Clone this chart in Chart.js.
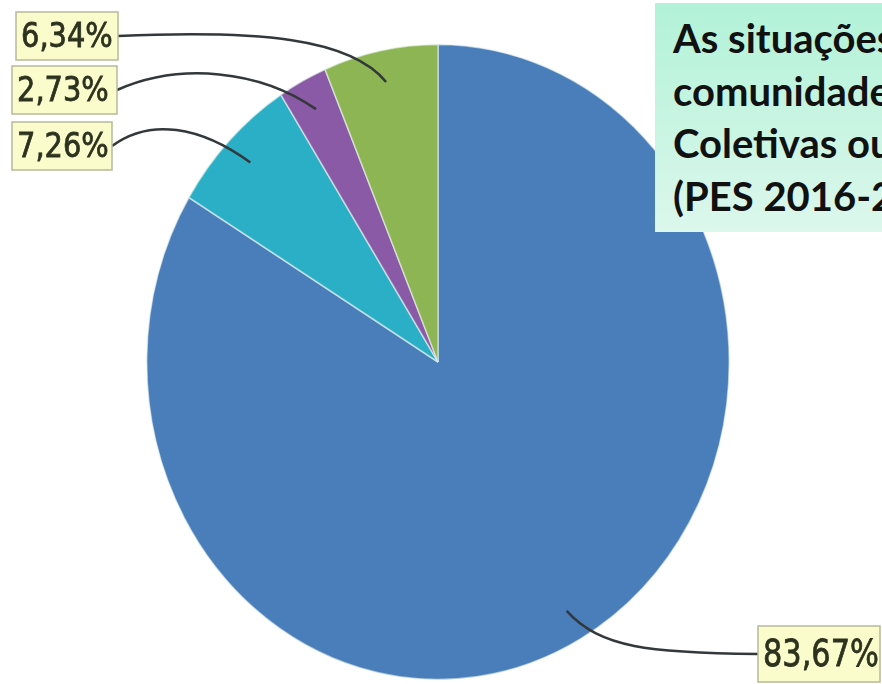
<!DOCTYPE html>
<html>
<head>
<meta charset="utf-8">
<script src="https://cdn.jsdelivr.net/npm/chart.js@4"></script>
<style>
  html, body { margin: 0; padding: 0; background: #fff; overflow: hidden; }
  #wrap { position: relative; width: 882px; height: 684px; }
  #note {
    position: absolute; left: 655px; top: 3px; width: 260px; height: 229px;
    background: linear-gradient(#b2f2d8, #dcf7ec);
    font-family: Lato, "Open Sans", sans-serif; font-weight: bold;
    font-size: 40px; line-height: 52.5px; color: #111;
    padding: 9px 0 0 18px; box-sizing: border-box; white-space: nowrap;
  }
</style>
</head>
<body>
<div id="wrap">
  <canvas id="pie" width="882" height="684"></canvas>
  <div id="note">As situações<br>comunidade<br>Coletivas ou<br>(PES 2016-2</div>
</div>
<script>
  const labels = ["83,67%", "7,26%", "2,73%", "6,34%"];
  const values = [83.67, 7.26, 2.73, 6.34];
  const colors = ["#4a7ebb", "#2aafc7", "#8a5aa6", "#8db554"];

  // pie is stretched a bit vertically in the original
  const Y_STRETCH = 1.09;

  // label boxes + leader line control points, same order as values
  const callouts = [
    { x: 758, y: 626, w: 122, h: 56, size: 38, sx: 0.8, from: "left",
      c1: [650, 653], c2: [600, 648] },
    { x: 12, y: 122, w: 100, h: 48, size: 34, sx: 0.85, from: "right",
      c1: [150, 118], c2: [200, 126] },
    { x: 12, y: 66, w: 105, h: 48, size: 34, sx: 0.85, from: "right",
      c1: [180, 62], c2: [260, 70] },
    { x: 16, y: 12, w: 102, h: 48, size: 34, sx: 0.85, from: "right",
      c1: [260, 30], c2: [350, 38] },
  ];

  const stretchPlugin = {
    id: "stretch",
    beforeDatasetsDraw(chart) {
      const arc = chart.getDatasetMeta(0).data[0];
      const ctx = chart.ctx;
      ctx.save();
      ctx.translate(arc.x, arc.y);
      ctx.scale(1, Y_STRETCH);
      ctx.translate(-arc.x, -arc.y);
    },
    afterDatasetsDraw(chart) {
      chart.ctx.restore();
    },
  };

  const calloutPlugin = {
    id: "callouts",
    afterDraw(chart) {
      const ctx = chart.ctx;
      chart.getDatasetMeta(0).data.forEach((arc, i) => {
        const c = callouts[i];
        const mid = (arc.startAngle + arc.endAngle) / 2;
        const r = arc.outerRadius * 0.9;
        const ex = arc.x + Math.cos(mid) * r;
        const ey = arc.y + Math.sin(mid) * r * Y_STRETCH;
        const sx = c.from === "right" ? c.x + c.w : c.x;
        const sy = c.y + c.h / 2;

        ctx.save();
        ctx.strokeStyle = "#33383a";
        ctx.lineWidth = 2.5;
        ctx.beginPath();
        ctx.moveTo(sx, sy);
        ctx.bezierCurveTo(c.c1[0], c.c1[1], c.c2[0], c.c2[1], ex, ey);
        ctx.stroke();

        ctx.fillStyle = "#fafccb";
        ctx.strokeStyle = "#b8b89c";
        ctx.lineWidth = 1.5;
        ctx.fillRect(c.x, c.y, c.w, c.h);
        ctx.strokeRect(c.x, c.y, c.w, c.h);

        ctx.fillStyle = "#2d321f";
        ctx.strokeStyle = "#2d321f";
        ctx.lineWidth = 0.8;
        ctx.font = c.size + "px 'DejaVu Sans'";
        ctx.textBaseline = "middle";
        ctx.translate(c.x + 5, sy + 2);
        ctx.scale(c.sx, 1);
        ctx.fillText(labels[i], 0, 0);
        ctx.strokeText(labels[i], 0, 0);
        ctx.restore();
      });
    },
  };

  new Chart(document.getElementById("pie"), {
    type: "pie",
    data: {
      labels,
      datasets: [
        {
          data: values,
          backgroundColor: colors,
          borderColor: "rgba(235,245,240,0.6)",
          borderWidth: 1.5,
        },
      ],
    },
    options: {
      responsive: false,
      animation: false,
      devicePixelRatio: 1,
      layout: { padding: { left: 146, right: 152, top: 70, bottom: 30 } },
      plugins: { legend: { display: false }, tooltip: { enabled: false } },
    },
    plugins: [stretchPlugin, calloutPlugin],
  });
</script>
</body>
</html>
